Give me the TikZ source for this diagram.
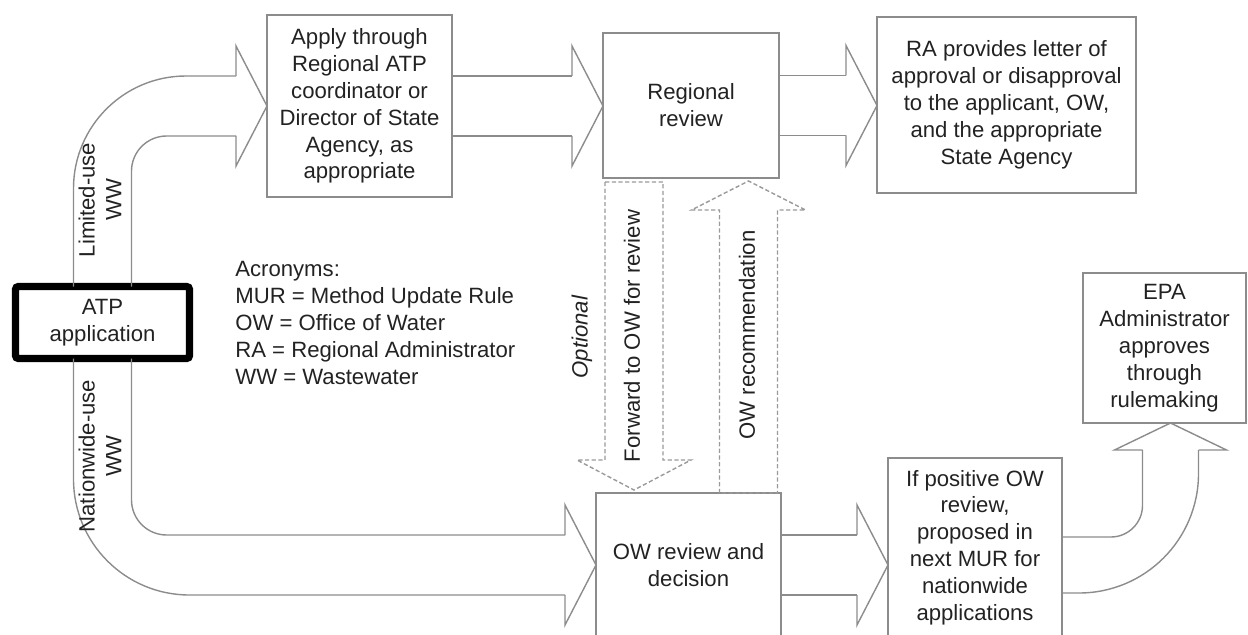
\documentclass[tikz,border=0pt]{standalone}
\usepackage{fontspec}
\setmainfont{Liberation Sans}
\usetikzlibrary{calc}

\newlength\dpx
\setlength\dpx{0.02cm}
\definecolor{linegray}{HTML}{8C8C8C}
\definecolor{dashgray}{HTML}{9A9A9A}
\definecolor{textgray}{HTML}{222222}

% block arrow heads, given the tip
\newcommand\headright[1]{\draw[flow] ($#1+(-31,-30)$) -- ++(0,-30) -- #1 -- ++(-31,60) -- ++(0,-30);}
\newcommand\headup[1]{\draw[flow] ($#1+(-28,27)$) -- ++(-28,0) -- #1 -- ++(56,27) -- ++(-28,0);}
% straight block arrow from node to node
\newcommand\flowarrow[2]{%
  \coordinate (tip) at (#2.west |- #1.east);
  \draw[flow] ($(#1.east)+(0,-30)$) -- ($(tip)+(-31,-30)$);
  \draw[flow] ($(#1.east)+(0,30)$) -- ($(tip)+(-31,30)$);
  \headright{(tip)}}

\begin{document}
\begin{tikzpicture}[x=1\dpx,y=-1\dpx,
    box/.style={draw=linegray,line width=0.9pt,inner sep=0pt,outer sep=0pt,
      align=center,text=textgray,font=\fontsize{12.6}{15.3}\selectfont},
    flow/.style={draw=linegray,line width=0.8pt},
    dashflow/.style={draw=dashgray,line width=0.8pt,dash pattern=on 2.4pt off 1.4pt},
    lbl/.style={inner sep=0pt,align=center,text=textgray,font=\fontsize{12.6}{15.3}\selectfont}]

    \useasboundingbox (0,0) rectangle (1248,635);
    \clip (0,0) rectangle (1248,635);

    % boxes
    \node[box,draw=black,line width=4pt,rounded corners=1.5pt,minimum width=174\dpx,minimum height=72\dpx]
        (atp) at (102.5,322.5) {ATP\\application};
    \node[box,minimum width=185\dpx,minimum height=182\dpx] (apply) at (359.5,106)
        {Apply through\\Regional ATP\\coordinator or\\Director of State\\Agency, as\\appropriate};
    \node[box,minimum width=176\dpx,minimum height=145\dpx] (regional) at (691,105.5) {Regional\\review};
    \node[box,minimum width=259\dpx,minimum height=176\dpx] (ra) at (1006.5,105)
        {RA provides letter of\\approval or disapproval\\to the applicant, OW,\\and the appropriate\\State Agency};
    \node[box,minimum width=185\dpx,minimum height=144\dpx] (ow) at (688.5,565) {OW review and\\decision};
    \node[box,minimum width=174\dpx,minimum height=179\dpx] (ifpos) at (975,547.5)
        {If positive OW\\review,\\proposed in\\next MUR for\\nationwide\\applications};
    \node[box,minimum width=163\dpx,minimum height=150\dpx] (epa) at (1164.5,348)
        {EPA\\Administrator\\approves\\through\\rulemaking};

    \node[lbl,anchor=north west,align=left] (acronyms) at (235,261)
        {Acronyms:\\MUR = Method Update Rule\\OW = Office of Water\\RA = Regional Administrator\\WW = Wastewater};

    % limited-use branch
    \draw[flow,rounded corners=64] ($(atp.north)+(-29,0)$) |- ($(apply.west)+(-31,-30)$);
    \draw[flow,rounded corners=20] ($(atp.north)+(29,0)$) |- ($(apply.west)+(-31,30)$);
    \headright{(apply.west)}
    \node[lbl,rotate=90] (limited) at (100,200) {Limited-use\\WW};

    % nationwide-use branch
    \draw[flow,rounded corners=66] ($(atp.south)+(-29,0)$) |- ($(ow.west)+(-31,30)$);
    \draw[flow,rounded corners=20] ($(atp.south)+(29,0)$) |- ($(ow.west)+(-31,-30)$);
    \headright{(ow.west)}
    \node[lbl,rotate=90] (nationwide) at (100,456) {Nationwide-use\\WW};

    \flowarrow{apply}{regional}
    \flowarrow{regional}{ra}
    \flowarrow{ow}{ifpos}

    % up to the rulemaking
    \coordinate (epatip) at ($(epa.south)+(6,0)$);
    \draw[flow,rounded corners=18] ($(ifpos.east |- ow.east)+(0,-28)$) -| ($(epatip)+(-28,27)$);
    \draw[flow,rounded corners=68] ($(ifpos.east |- ow.east)+(0,28)$) -| ($(epatip)+(28,27)$);
    \headup{(epatip)}

    % optional review by OW
    \coordinate (fwdtop) at ($(regional.south)+(-57,4)$);
    \coordinate (fwdtip) at ($(ow.north -| fwdtop)+(0,-3)$);
    \draw[dashflow] ($(fwdtop)+(-29,0)$) -- ($(fwdtip)+(-29,-30)$) -- ++(-28,0) -- (fwdtip)
        -- ++(57,-30) -- ++(-28,0) -- ($(fwdtop)+(29,0)$) -- cycle;
    \coordinate (recbase) at ($(ow.north)+(60,0)$);
    \coordinate (rectip) at ($(regional.south -| recbase)+(0,3)$);
    \draw[dashflow] ($(recbase)+(-29,0)$) -- ($(rectip)+(-29,29)$) -- ++(-28,0) -- (rectip)
        -- ++(57,29) -- ++(-28,0) -- ($(recbase)+(29,0)$) -- cycle;

    \node[lbl,rotate=90,font=\fontsize{12.6}{15.3}\selectfont\itshape] (optional) at (582,337) {Optional};
    \node[lbl,rotate=90] (forward) at (632,336) {Forward to OW for review};
    \node[lbl,rotate=90] (recommend) at (747,335) {OW recommendation};
\end{tikzpicture}
\end{document}
